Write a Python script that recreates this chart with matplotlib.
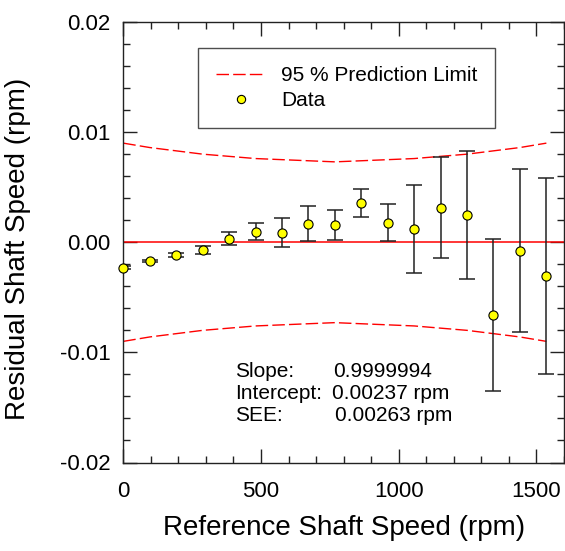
import matplotlib
matplotlib.use("Agg")
import matplotlib.pyplot as plt
from matplotlib.ticker import MultipleLocator, FixedLocator, FixedFormatter

plt.rcParams['font.family'] = ['Liberation Sans', 'DejaVu Sans']

# ---- data ----
speed = [0, 96, 192, 288, 384, 480, 576, 672, 768, 864, 960, 1056, 1152, 1248, 1344, 1440, 1536]
residual = [-0.00230, -0.00170, -0.00118, -0.00067, 0.00033, 0.00097, 0.00088, 0.00170,
            0.00160, 0.00355, 0.00179, 0.00120, 0.00315, 0.00245, -0.00660, -0.00075, -0.00310]
err = [0.0001, 0.0001, 0.0002, 0.00036, 0.0006, 0.0008, 0.00135, 0.0016,
       0.00136, 0.0013, 0.0017, 0.0040, 0.0046, 0.0058, 0.0069, 0.0074, 0.0089]
pred_upper = [0.0090, 0.0086, 0.0083, 0.0080, 0.0078, 0.0076, 0.0075, 0.0074, 0.0073,
              0.0074, 0.0075, 0.0076, 0.0078, 0.0080, 0.0083, 0.0086, 0.0090]
pred_lower = [-v for v in pred_upper]

yticks = [-0.02, -0.01, 0.0, 0.01, 0.02]
ytick_labels = ["-0.02", "-0.01", "0.00", "0.01", "0.02"]
xticks = [0, 500, 1000, 1500]
xtick_labels = ["0", "500", "1000", "1500"]

stats_names = ["Slope:", "Intercept:", "SEE:"]
stats_values = ["0.9999994", "0.00237 rpm", "0.00263 rpm"]

# ---- figure ----
W, H = 565, 551
fig = plt.figure(figsize=(W / 100, H / 100), dpi=100)
ax = fig.add_axes([123.3 / W, 1 - 462.5 / H, (564 - 123.3) / W, (462.5 - 22) / H])

red = '#ff0000'
ax.plot(speed, pred_upper, color=red, lw=1.0, dashes=(9, 3), label='95 % Prediction Limit', zorder=2)
ax.plot(speed, pred_lower, color=red, lw=1.0, dashes=(9, 3), zorder=2)
ax.axhline(0, color=red, lw=1.1, zorder=2)

ax.errorbar(speed, residual, yerr=err, fmt='none', ecolor='#222222', elinewidth=1.1,
            capsize=5.8, capthick=1.1, zorder=3)
ax.plot(speed, residual, 'o', ms=6.6, mfc='#ffff00', mec='black', mew=0.8,
        label='Data', zorder=4, clip_on=False, linestyle='none')

ax.set_xlim(0, 1600)
ax.set_ylim(-0.02, 0.02)
ax.xaxis.set_major_locator(FixedLocator(xticks))
ax.xaxis.set_major_formatter(FixedFormatter(xtick_labels))
ax.xaxis.set_minor_locator(MultipleLocator(100))
ax.yaxis.set_major_locator(FixedLocator(yticks))
ax.yaxis.set_major_formatter(FixedFormatter(ytick_labels))
ax.yaxis.set_minor_locator(MultipleLocator(0.002))

ax.tick_params(which='both', direction='in', top=True, right=True, width=1.0, color='#222222')
ax.tick_params(which='major', length=10)
ax.tick_params(which='minor', length=5)
ax.tick_params(axis='x', which='major', labelsize=16, pad=13)
ax.tick_params(axis='y', which='major', labelsize=16, pad=9)
for s in ax.spines.values():
    s.set_linewidth(1.0)
    s.set_color('#222222')

ax.set_xlabel('Reference Shaft Speed (rpm)', fontsize=20)
ax.set_ylabel('Residual Shaft Speed (rpm)', fontsize=20)
ax.xaxis.set_label_coords(0.5, -0.12)
ax.yaxis.set_label_coords(-0.21, 0.486)

leg = ax.legend(loc='upper left', bbox_to_anchor=(198 / W, 1 - 48.3 / H),
                bbox_transform=fig.transFigure, borderaxespad=0, fontsize=15,
                fancybox=False, frameon=True, edgecolor='#222222', handlelength=2.4,
                handletextpad=0.75, borderpad=0.85, labelspacing=0.3, markerscale=0.9)
leg.get_frame().set_linewidth(1.0)

name_x = (235 - 123.3) / (564 - 123.3)
val_x = [(333.3 - 123.3) / 440.7, (331.7 - 123.3) / 440.7, (335 - 123.3) / 440.7]
base_y = [(462.5 - 377.3) / 440.5, (462.5 - 399.3) / 440.5, (462.5 - 420.7) / 440.5]
for nm, vl, vx, by in zip(stats_names, stats_values, val_x, base_y):
    ax.text(name_x, by, nm, transform=ax.transAxes, fontsize=15, va='baseline', ha='left')
    ax.text(vx, by, vl, transform=ax.transAxes, fontsize=15, va='baseline', ha='left')

fig.savefig('out.png', dpi=100)
